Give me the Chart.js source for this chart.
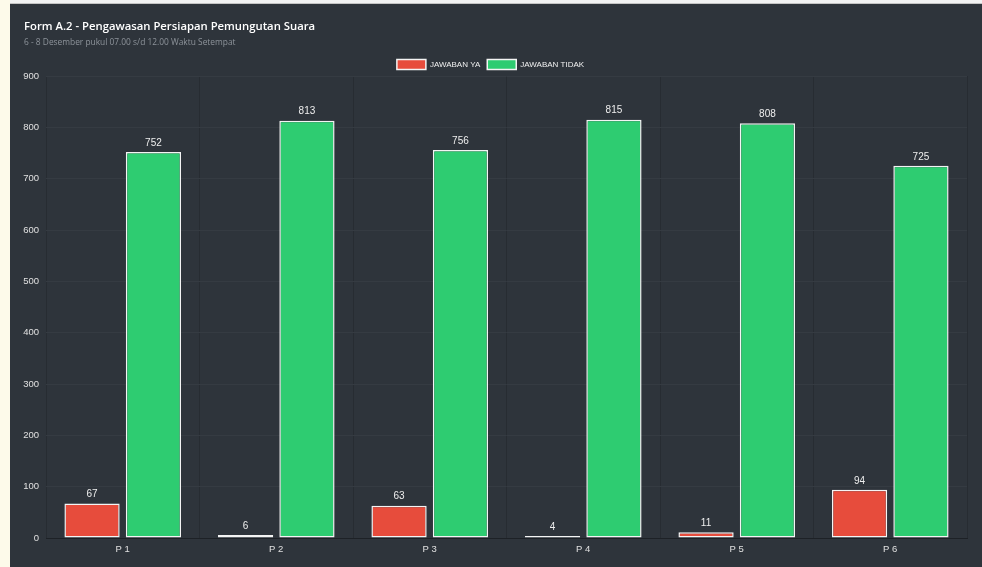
<!DOCTYPE html>
<html>
<head>
<meta charset="utf-8">
<script src="https://cdn.jsdelivr.net/npm/chart.js@4.4.1/dist/chart.umd.min.js"></script>
<style>
  html, body { margin: 0; padding: 0; width: 982px; height: 567px; overflow: hidden; background: #fdfaea; }
  #top { position: absolute; left: 10px; top: 0; width: 972px; height: 4px; background: #f2f2f2; border-bottom: 1px solid #c4c4c4; box-sizing: border-box; }
  #panel { position: absolute; left: 10px; top: 4px; width: 972px; height: 563px; background: #2e343b; }
  canvas { display: block; }
</style>
</head>
<body>
<div id="top"></div>
<div id="panel"><canvas id="c" width="972" height="563"></canvas></div>
<script>
const categories = ['P 1', 'P 2', 'P 3', 'P 4', 'P 5', 'P 6'];
const jawabanYa = [67, 6, 63, 4, 11, 94];
const jawabanTidak = [752, 813, 756, 815, 808, 725];
const yTicks = [0, 100, 200, 300, 400, 500, 600, 700, 800, 900];
const seriesNames = ['JAWABAN YA', 'JAWABAN TIDAK'];
const titleText = 'Form A.2 - Pengawasan Persiapan Pemungutan Suara';
const subtitleText = '6 - 8 Desember pukul 07.00 s/d 12.00 Waktu Setempat';

const dataLabels = {
  id: 'dataLabels',
  afterDatasetsDraw(chart) {
    const ctx = chart.ctx;
    ctx.save();
    ctx.font = '10px "Liberation Sans", Arial, sans-serif';
    ctx.fillStyle = '#eeeeee';
    ctx.textAlign = 'center';
    ctx.textBaseline = 'bottom';
    chart.data.datasets.forEach((ds, i) => {
      const meta = chart.getDatasetMeta(i);
      meta.data.forEach((el, j) => {
        ctx.fillText(String(ds.data[j]), el.x, el.y - 4);
      });
    });
    ctx.restore();
  }
};

const shiftBoxes = {
  id: 'shiftBoxes',
  afterLayout(chart) {
    chart.boxes.forEach(b => {
      if (b === chart.legend) { b.top += 3.5; b.bottom += 3.5; }
      else if (b.options && (b.options.text === titleText || b.options.text === subtitleText)) {
        b.left += 10; b.right += 10;
      }
    });
  }
};

new Chart(document.getElementById('c'), {
  type: 'bar',
  data: {
    labels: categories,
    datasets: [
      { label: seriesNames[0], data: jawabanYa, backgroundColor: '#e74c3c', borderColor: '#f4f4f4', borderWidth: 1.5, borderSkipped: false },
      { label: seriesNames[1], data: jawabanTidak, backgroundColor: '#2ecc71', borderColor: '#f4f4f4', borderWidth: 1.5, borderSkipped: false }
    ]
  },
  options: {
    responsive: false,
    animation: false,
    layout: { padding: { left: 4, right: 15, top: 0, bottom: 0 } },
    datasets: { bar: { categoryPercentage: 0.8, barPercentage: 0.9 } },
    plugins: {
      title: {
        display: true, text: titleText, align: 'start', color: '#ffffff',
        font: { family: '"Open Sans", sans-serif', size: 11.3, weight: '600', lineHeight: 1.2 },
        padding: { top: 16.2, bottom: 0 }
      },
      subtitle: {
        display: true, text: subtitleText, align: 'start', color: '#8d939a',
        font: { family: '"Open Sans", sans-serif', size: 8.4, weight: 'normal', lineHeight: 1.2 },
        padding: { top: 4.2, bottom: 1 }
      },
      legend: {
        display: true, position: 'top', align: 'center',
        labels: {
          boxWidth: 29, boxHeight: 10, padding: 7, color: '#f0f0f0',
          font: { family: '"Liberation Sans", Arial, sans-serif', size: 8 }
        }
      },
      tooltip: { enabled: false }
    },
    scales: {
      x: {
        grid: { display: true, color: '#272c32', drawTicks: false, offset: true },
        border: { display: true, color: '#1d2126', width: 1 },
        ticks: { color: '#e0e0e0', padding: 6, font: { family: '"Liberation Sans", Arial, sans-serif', size: 9.5 } },
        afterFit(scale) { scale.height = 29; }
      },
      y: {
        min: 0, max: 900,
        afterBuildTicks(scale) { scale.ticks = yTicks.map(v => ({ value: v })); },
        grid: { color: '#353b42', drawTicks: false },
        border: { display: false },
        ticks: { color: '#e0e0e0', padding: 7, font: { family: '"Liberation Sans", Arial, sans-serif', size: 9.5 } },
        afterFit(scale) { scale.width = 32; }
      }
    }
  },
  plugins: [dataLabels, shiftBoxes]
});
</script>
</body>
</html>
